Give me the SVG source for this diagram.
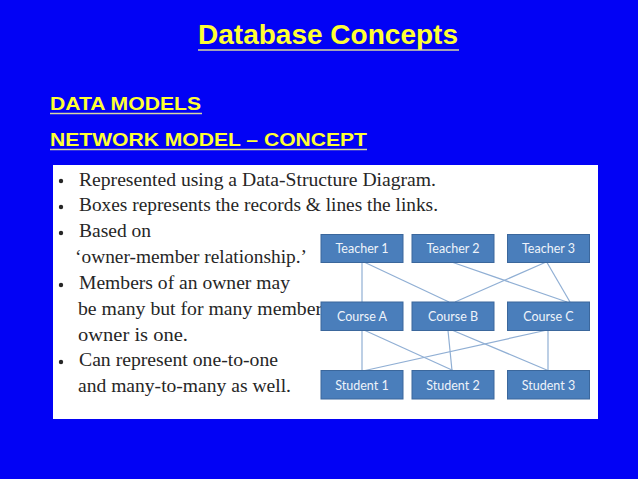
<svg xmlns="http://www.w3.org/2000/svg" width="638" height="479" viewBox="0 0 638 479">
<style>
.h{font-family:"Liberation Sans",Arial,sans-serif;font-weight:bold;fill:#ffff33}
.ul{stroke:#d8d8a0;stroke-width:1.6}
.b{font-family:"Liberation Serif","Times New Roman",serif;font-size:18px;fill:#262626}
.box rect{fill:#4a7ebb;stroke:#3b679c;stroke-width:1}
.box text{font-family:Lato,"Open Sans",sans-serif;font-size:12.5px;fill:#eef3fa;text-anchor:middle}
.conn line{stroke:#90afd4;stroke-width:1.2}
</style>
<rect width="638" height="479" fill="#0202f5"/>
<g id="titles">
<text class="h" x="198" y="44" font-size="28" textLength="260" lengthAdjust="spacingAndGlyphs">Database Concepts</text>
<line class="ul" x1="198" y1="50" x2="459" y2="50"/>
<text class="h" x="50" y="110" font-size="19" textLength="151" lengthAdjust="spacingAndGlyphs">DATA MODELS</text>
<line class="ul" x1="50" y1="113.5" x2="202" y2="113.5"/>
<text class="h" x="50" y="146" font-size="19" textLength="317" lengthAdjust="spacingAndGlyphs">NETWORK MODEL – CONCEPT</text>
<line class="ul" x1="50" y1="149.5" x2="367" y2="149.5"/>
</g>
<rect id="panel" x="53" y="165" width="545" height="254" fill="#ffffff"/>
<g id="bullets">
<circle cx="61" cy="181" r="2.2" fill="#262626"/>
<circle cx="61" cy="207" r="2.2" fill="#262626"/>
<circle cx="61" cy="233" r="2.2" fill="#262626"/>
<circle cx="61" cy="285" r="2.2" fill="#262626"/>
<circle cx="61" cy="362" r="2.2" fill="#262626"/>
<text class="b" x="79" y="185.5" textLength="357" lengthAdjust="spacingAndGlyphs">Represented using a Data-Structure Diagram.</text>
<text class="b" x="79" y="211.3" textLength="359" lengthAdjust="spacingAndGlyphs">Boxes represents the records &amp; lines the links.</text>
<text class="b" x="79" y="237" textLength="72" lengthAdjust="spacingAndGlyphs">Based on</text>
<text class="b" x="75" y="263" textLength="232" lengthAdjust="spacingAndGlyphs">‘owner-member relationship.’</text>
<text class="b" x="79" y="289" textLength="211" lengthAdjust="spacingAndGlyphs">Members of an owner may</text>
<text class="b" x="78" y="315" textLength="244" lengthAdjust="spacingAndGlyphs">be many but for many member</text>
<text class="b" x="78" y="340.5" textLength="110" lengthAdjust="spacingAndGlyphs">owner is one.</text>
<text class="b" x="79" y="366" textLength="199" lengthAdjust="spacingAndGlyphs">Can represent one-to-one</text>
<text class="b" x="78" y="391.5" textLength="213" lengthAdjust="spacingAndGlyphs">and many-to-many as well.</text>
</g>
<g id="connectors" class="conn">
<line x1="362" y1="262.5" x2="362" y2="302"/>
<line x1="365" y1="262.5" x2="449" y2="302"/>
<line x1="453" y1="262.5" x2="567" y2="302"/>
<line x1="545" y1="262.5" x2="455" y2="302"/>
<line x1="547" y1="262.5" x2="570" y2="302"/>
<line x1="362" y1="330.5" x2="362" y2="370.5"/>
<line x1="365" y1="330.5" x2="453" y2="370.5"/>
<line x1="448" y1="330.5" x2="452" y2="370.5"/>
<line x1="453" y1="330.5" x2="548" y2="370.5"/>
<line x1="545" y1="330.5" x2="365" y2="370.5"/>
<line x1="548" y1="330.5" x2="548" y2="370.5"/>
</g>
<g id="teacher1" class="box"><rect x="321" y="234.5" width="82" height="28"/><text x="362" y="253">Teacher 1</text></g>
<g id="teacher2" class="box"><rect x="412" y="234.5" width="82" height="28"/><text x="453" y="253">Teacher 2</text></g>
<g id="teacher3" class="box"><rect x="507.5" y="234.5" width="82" height="28"/><text x="548.5" y="253">Teacher 3</text></g>
<g id="courseA" class="box"><rect x="321" y="302" width="82" height="28.5"/><text x="362" y="321">Course A</text></g>
<g id="courseB" class="box"><rect x="412" y="302" width="82" height="28.5"/><text x="453" y="321">Course B</text></g>
<g id="courseC" class="box"><rect x="507.5" y="302" width="82" height="28.5"/><text x="548.5" y="321">Course C</text></g>
<g id="student1" class="box"><rect x="321" y="370.5" width="82" height="28.5"/><text x="362" y="389.5">Student 1</text></g>
<g id="student2" class="box"><rect x="412" y="370.5" width="82" height="28.5"/><text x="453" y="389.5">Student 2</text></g>
<g id="student3" class="box"><rect x="507.5" y="370.5" width="82" height="28.5"/><text x="548.5" y="389.5">Student 3</text></g>
</svg>
